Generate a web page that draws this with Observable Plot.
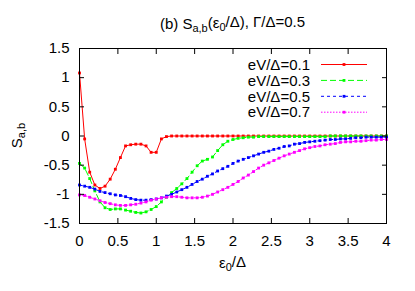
<!DOCTYPE html>
<html><head><meta charset="utf-8">
<script src="https://cdn.jsdelivr.net/npm/d3@7"></script>
<script src="https://cdn.jsdelivr.net/npm/@observablehq/plot@0.6"></script>
<style>html,body{margin:0;padding:0;background:#fff} svg{display:block}</style>
</head><body><div id="chart"></div>
<script>
// eps0/Delta grid (61 points)
const eps = [0,0.067,0.133,0.2,0.267,0.333,0.4,0.467,0.533,0.6,0.667,0.733,0.8,0.867,0.933,1,
  1.067,1.133,1.2,1.267,1.333,1.4,1.467,1.533,1.6,1.667,1.733,1.8,1.867,1.933,2,
  2.067,2.133,2.2,2.267,2.333,2.4,2.467,2.533,2.6,2.667,2.733,2.8,2.867,2.933,3,
  3.067,3.133,3.2,3.267,3.333,3.4,3.467,3.533,3.6,3.667,3.733,3.8,3.867,3.933,4];

const sV01 = [1.08,-0.05,-0.62,-0.84,-0.90,-0.86,-0.74,-0.57,-0.37,-0.17,-0.15,-0.14,-0.14,-0.17,-0.28,-0.28,
  -0.05,-0.01,0,0,0,0,0,0,0,0,0,0,0,0,0,
  0,0,0,0,0,0,0,0,0,0,0,0,0,0,0,
  0,0,0,0,0,0,0,0,0,0,0,0,0,0,0];

const sV03 = [-0.47,-0.55,-0.73,-0.94,-1.13,-1.23,-1.26,-1.25,-1.25,-1.27,-1.29,-1.31,-1.32,-1.30,-1.26,-1.21,
  -1.13,-1.05,-0.97,-0.90,-0.82,-0.73,-0.62,-0.51,-0.43,-0.40,-0.36,-0.25,-0.15,-0.09,-0.06,
  -0.04,-0.03,-0.02,-0.02,-0.01,-0.01,-0.01,-0.01,-0.01,-0.01,-0.01,-0.01,-0.01,-0.01,-0.01,
  -0.01,-0.01,-0.01,0,0,0,0,0,0,0,0,0,0,0,0];

const sV05 = [-0.84,-0.86,-0.88,-0.91,-0.95,-0.97,-0.99,-1.01,-1.02,-1.04,-1.07,-1.09,-1.10,-1.10,-1.09,-1.08,
  -1.06,-1.03,-1.00,-0.96,-0.92,-0.88,-0.83,-0.78,-0.74,-0.69,-0.65,-0.60,-0.56,-0.52,-0.47,
  -0.43,-0.40,-0.37,-0.34,-0.31,-0.28,-0.26,-0.23,-0.21,-0.18,-0.17,-0.14,-0.13,-0.11,-0.10,
  -0.09,-0.08,-0.07,-0.06,-0.06,-0.05,-0.05,-0.04,-0.03,-0.03,-0.02,-0.02,-0.02,-0.02,-0.02];

const sV07 = [-1.01,-1.02,-1.05,-1.08,-1.11,-1.14,-1.16,-1.18,-1.19,-1.19,-1.18,-1.17,-1.15,-1.13,-1.10,-1.08,
  -1.06,-1.05,-1.04,-1.04,-1.05,-1.06,-1.06,-1.06,-1.05,-1.03,-1.00,-0.96,-0.92,-0.88,-0.83,
  -0.78,-0.72,-0.67,-0.61,-0.55,-0.50,-0.46,-0.42,-0.38,-0.34,-0.31,-0.28,-0.25,-0.22,-0.20,
  -0.18,-0.17,-0.15,-0.14,-0.13,-0.11,-0.10,-0.10,-0.09,-0.09,-0.08,-0.07,-0.07,-0.06,-0.06];

const seriesLabels = ["eV/Δ=0.1","eV/Δ=0.3","eV/Δ=0.5","eV/Δ=0.7"];
const seriesValues = [sV01, sV03, sV05, sV07];
const seriesColors = ["#ff0000","#00ff00","#0000ff","#ff00ff"];
const seriesDash = [null,"6,3","3,3","1.5,1.5"];

const xTicks = [0,0.5,1,1.5,2,2.5,3,3.5,4];
const yTicks = [-1.5,-1,-0.5,0,0.5,1,1.5];
const fmt = d => String(d); // hyphen-minus like gnuplot

const FONT = "'Liberation Sans', Arial, Helvetica, sans-serif";
const FS = 15;

const lineMarks = [];
seriesValues.forEach((vals, i) => {
  const rows = eps.map((e, j) => ({e, s: vals[j]}));
  lineMarks.push(Plot.line(rows, {x: "e", y: "s", stroke: seriesColors[i], strokeWidth: 1,
    strokeDasharray: seriesDash[i], curve: "linear"}));
  lineMarks.push(Plot.dot(rows, {x: "e", y: "s", fill: seriesColors[i], symbol: "square", r: 1.6, stroke: "none"}));
});

const plot = Plot.plot({
  width: 415, height: 291,
  marginLeft: 79, marginRight: 29, marginTop: 48, marginBottom: 68,
  x: {domain: [0, 4]},
  y: {domain: [-1.5, 1.5]},
  style: {fontFamily: FONT, fontSize: FS + "px", color: "black", background: "white", overflow: "visible"},
  marks: [
    ...lineMarks,
    Plot.axisX(xTicks, {anchor: "bottom", tickSize: 0, tickPadding: 12, tickFormat: fmt, label: null, fontSize: FS}),
    Plot.axisY(yTicks, {anchor: "left", tickSize: 0, tickPadding: 10, tickFormat: fmt, label: null, fontSize: FS}),
    Plot.axisX(xTicks, {anchor: "bottom", tickSize: -5, tickFormat: () => "", label: null, stroke: "black"}),
    Plot.axisX(xTicks, {anchor: "top", tickSize: -5, tickFormat: () => "", label: null, stroke: "black"}),
    Plot.axisY(yTicks, {anchor: "left", tickSize: -5, tickFormat: () => "", label: null, stroke: "black"}),
    Plot.axisY(yTicks, {anchor: "right", tickSize: -5, tickFormat: () => "", label: null, stroke: "black"}),
    Plot.frame({stroke: "black", strokeWidth: 1})
  ]
});

document.getElementById("chart").appendChild(plot);

// Text with subscripts and the in-plot key
const svg = d3.select(plot);
const [x0, x1] = plot.scale("x").range;
const [yb, yt] = plot.scale("y").range;
const cx = (x0 + x1) / 2, cy = (yb + yt) / 2;

function richText(g, parts) {
  let shifted = false;
  parts.forEach(p => {
    if (typeof p === "string") {
      const t = g.append("tspan").text(p);
      if (shifted) { t.attr("dy", "-0.28em"); shifted = false; }
    } else {
      g.append("tspan").attr("font-size", p.fs || 11).attr("dy", "0.28em").text(p.sub);
      shifted = true;
    }
  });
}

const title = svg.append("text").attr("x", cx).attr("y", yt - 19)
  .attr("text-anchor", "middle").attr("font-family", FONT).attr("font-size", FS).attr("fill", "black");
richText(title, ["(b) S", {sub: "a,b"}, "(ε", {sub: "0"}, "/Δ), Γ/Δ=0.5"]);

const xl = svg.append("text").attr("x", cx).attr("y", yb + 45)
  .attr("text-anchor", "middle").attr("font-family", FONT).attr("font-size", FS).attr("fill", "black");
richText(xl, ["ε", {sub: "0"}, "/Δ"]);

const yl = svg.append("text").attr("transform", `translate(${x0 - 57},${cy}) rotate(-90)`)
  .attr("text-anchor", "middle").attr("font-family", FONT).attr("font-size", FS).attr("fill", "black");
richText(yl, ["S", {sub: "a,b"}]);

// key (gnuplot style, top right inside the frame)
const key = svg.append("g");
seriesLabels.forEach((lab, i) => {
  const yy = yt + 16.5 + i * 15.9;
  key.append("text").attr("x", x1 - 76).attr("y", yy).attr("dy", "0.35em")
    .attr("text-anchor", "end").attr("font-family", FONT).attr("font-size", FS).attr("fill", "black").text(lab);
  key.append("line").attr("x1", x1 - 65).attr("x2", x1 - 19).attr("y1", yy).attr("y2", yy)
    .attr("stroke", seriesColors[i]).attr("stroke-width", 1)
    .attr("stroke-dasharray", seriesDash[i]);
  key.append("rect").attr("x", x1 - 42 - 1.4).attr("y", yy - 1.4).attr("width", 2.8).attr("height", 2.8)
    .attr("fill", seriesColors[i]);
});
</script>
</body></html>
